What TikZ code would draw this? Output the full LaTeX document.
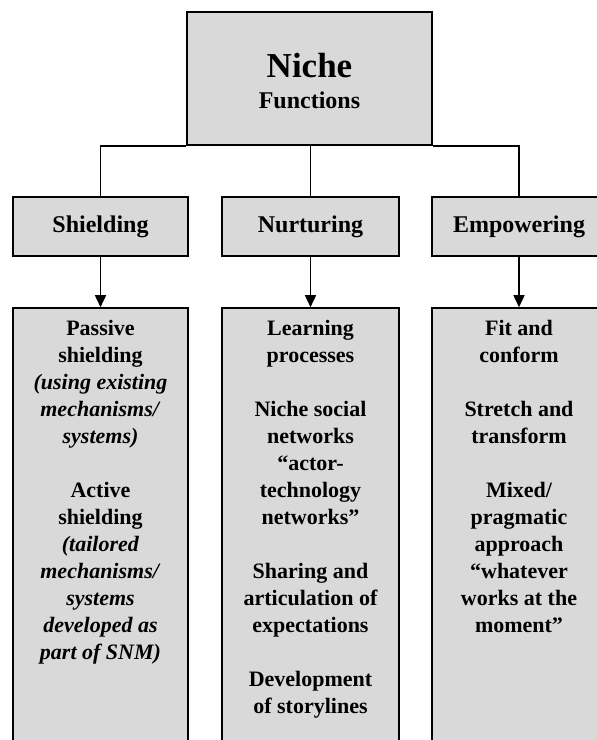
\documentclass[tikz,border=0pt]{standalone}
\usepackage{fontspec}
\setmainfont{Liberation Serif}
\usetikzlibrary{arrows.meta}
\definecolor{boxgray}{HTML}{D9D9D9}
\begin{document}
\begin{tikzpicture}[x=1pt,y=-1pt,
  box/.style={draw=black, line width=1.6pt, fill=boxgray, inner sep=0pt},
  headbox/.style={box, minimum height=59pt, font=\bfseries\fontsize{24}{28}\selectfont},
  bodybox/.style={box, minimum height=452pt},
  bodytext/.style={align=center, font=\bfseries\fontsize{22}{27}\selectfont, inner sep=0pt, anchor=north},
  link/.style={line width=1.6pt},
  arrowlink/.style={link, -{Triangle[length=12pt,width=11pt]}}]
\useasboundingbox (0,0) rectangle (597,740);
\clip (0,0) rectangle (597,740);

% root box
\node[box, minimum width=245pt, minimum height=133pt] (top) at (309.5,78.5) {};
\node[anchor=base, inner sep=0pt, font=\bfseries\fontsize{35}{40}\selectfont] (niche) at (309.5,77) {Niche};
\node[anchor=base, inner sep=0pt, font=\bfseries\fontsize{24}{28}\selectfont] (func) at (309.5,108) {Functions};

% function boxes
\node[headbox, minimum width=175pt] (shh) at (100.5,226.5) {Shielding};
\node[headbox, minimum width=177pt] (nuh) at (310.5,226.5) {Nurturing};
\node[headbox, minimum width=174pt] (emh) at (519,226.5) {Empowering};

% detail boxes
\node[bodybox, minimum width=175pt] (shb) at (100.5,534) {};
\node[bodybox, minimum width=177pt] (nub) at (310.5,534) {};
\node[bodybox, minimum width=174pt] (emb) at (519,534) {};

% connectors
\draw[link] (shh.north) |- (top.south west);
\draw[link] (emh.north) |- (top.south east);
\draw[link] (nuh.north |- top.south) -- (nuh.north);
\draw[arrowlink] (shh.south) -- (shb.north);
\draw[arrowlink] (nuh.south) -- (nub.north);
\draw[arrowlink] (emh.south) -- (emb.north);

% detail texts
\node[bodytext] (sht) at (100.5,320) {Passive\\shielding\\\textit{(using existing}\\\textit{mechanisms/}\\\textit{systems)}\\[27pt]
Active\\shielding\\\textit{(tailored}\\\textit{mechanisms/}\\\textit{systems}\\\textit{developed as}\\\textit{part of SNM)}};
\node[bodytext] (nut) at (310.5,320) {Learning\\processes\\[27pt]
Niche social\\networks\\“actor-\\technology\\networks”\\[27pt]
Sharing and\\articulation of\\expectations\\[27pt]
Development\\of storylines};
\node[bodytext] (emt) at (519,320) {Fit and\\conform\\[27pt]
Stretch and\\transform\\[27pt]
Mixed/\\pragmatic\\approach\\“whatever\\works at the\\moment”};
\end{tikzpicture}
\end{document}
